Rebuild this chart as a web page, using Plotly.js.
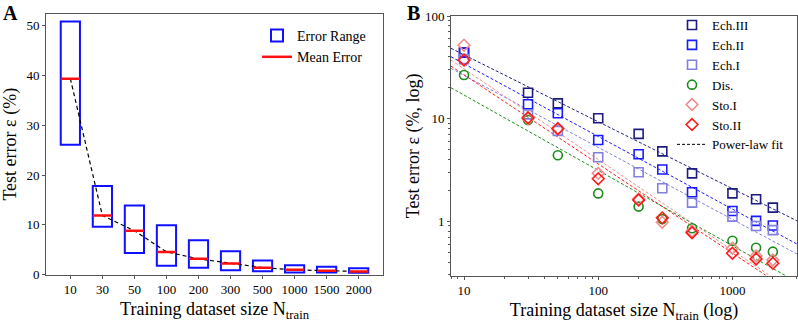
<!DOCTYPE html>
<html><head><meta charset="utf-8">
<script src="https://cdn.plot.ly/plotly-3.0.1.min.js"></script>
<style>html,body{margin:0;padding:0;background:#fff}#chart{width:798px;height:327px}</style>
</head><body><div id="chart"></div>
<script>
// ---- Panel A data ----
const catsA = ['10','30','50','100','200','300','500','1000','1500','2000'];
const lowA  = [26.1, 9.6, 4.3, 1.75, 1.34, 0.87, 0.67, 0.4, 0.4, 0.33];
const highA = [50.9, 17.8, 13.9, 9.9, 6.9, 4.7, 2.8, 1.87, 1.54, 1.27];
const meanA = [39.4, 11.85, 8.8, 4.55, 3.15, 2.2, 1.38, 0.94, 0.74, 0.6];

// ---- Panel B data ----
const xB   = [10, 30, 50, 100, 200, 300, 500, 1000, 1500, 2000];
const ech3 = [44, 17.9, 14.1, 10.1, 7.1, 4.8, 2.93, 1.87, 1.64, 1.36];
const ech2 = [44, 13.8, 11.3, 6.2, 4.5, 3.2, 1.92, 1.26, 1.01, 0.91];
const ech1 = [38, 11.0, 7.6, 4.2, 3.0, 2.1, 1.52, 1.11, 0.9, 0.82];
const dis  = [26.6, 9.7, 4.4, 1.87, 1.39, 1.05, 0.855, 0.647, 0.553, 0.506];
const sto1 = [52, 10.0, 8.0, 2.93, 1.65, 0.98, 0.8, 0.546, 0.46, 0.42];
const sto2 = [37.2, 10.2, 7.97, 2.6, 1.61, 1.08, 0.775, 0.488, 0.43, 0.39];
// power-law fit lines: values read at the two ends of the x range
const fitX    = [8, 3027];
const fitEch3 = [48.4, 1.01];
const fitEch2 = [40.1, 0.60];
const fitEch1 = [30.9, 0.48];
const fitDis  = [20.0, 0.256];
const fitSto1 = [37.2, 0.196];
const fitSto2 = [32.5, 0.187];

const seriesNames = ['Ech.III','Ech.II','Ech.I','Dis.','Sto.I','Sto.II'];

const W = 798, H = 327;
const fx = v => v / W, fy = v => 1 - v / H;
const FONT = 'Liberation Serif, Times New Roman, serif';

const idx = catsA.map((c, i) => i);
const half = 0.3;
const segX = [], segY = [];
idx.forEach((i) => { segX.push(i - half, i + half, null); segY.push(meanA[i], meanA[i], null); });

const traces = [
  {type:'bar', x: idx, base: lowA, y: highA.map((h, i) => h - lowA[i]), width: 0.6,
   marker:{color:'rgba(255,255,255,0)', line:{color:'#1010ff', width:2}},
   name:'Error Range', xaxis:'x', yaxis:'y', legend:'legend', hoverinfo:'skip'},
  {type:'scatter', mode:'lines', x: idx, y: meanA, line:{color:'#000', width:1.2, dash:'4px,3px'},
   showlegend:false, xaxis:'x', yaxis:'y'},
  {type:'scatter', mode:'lines', x: segX, y: segY, line:{color:'#ff1010', width:2.5},
   name:'Mean Error', xaxis:'x', yaxis:'y', legend:'legend', connectgaps:false}
];

const colors  = ['#1c1c80', '#1a1aff', '#8080e0', '#1a8c1a', '#f08c8c', '#ff1a1a'];
const symbols = ['square-open','square-open','square-open','circle-open','diamond-open','diamond-open'];
const vals = [ech3, ech2, ech1, dis, sto1, sto2];
const fits = [fitEch3, fitEch2, fitEch1, fitDis, fitSto1, fitSto2];

fits.forEach((f, k) => traces.push({
  type:'scatter', mode:'lines', x: fitX, y: f, line:{color: colors[k], width:1, dash:'3px,2px'},
  showlegend:false, xaxis:'x2', yaxis:'y2', hoverinfo:'skip'
}));
vals.forEach((v, k) => traces.push({
  type:'scatter', mode:'markers', x: xB, y: v, name: seriesNames[k],
  marker:{symbol: symbols[k], size: 9, color: colors[k], line:{color: colors[k], width:1.6}},
  xaxis:'x2', yaxis:'y2', legend:'legend2'
}));
traces.push({type:'scatter', mode:'lines', x:[null], y:[null], name:'Power-law fit',
  line:{color:'#000', width:1, dash:'3px,2px'}, xaxis:'x2', yaxis:'y2', legend:'legend2'});

const axBase = {showline:true, mirror:true, linecolor:'#555', linewidth:1, showgrid:false, zeroline:false,
  ticks:'outside', ticklen:3, tickwidth:1, tickcolor:'#555', tickfont:{family:FONT, size:13, color:'#000'}};

const layout = {
  width: W, height: H, margin:{l:0, r:0, t:0, b:0},
  paper_bgcolor:'#fff', plot_bgcolor:'#fff', font:{family:FONT, color:'#000'},
  showlegend:true,
  xaxis: Object.assign({}, axBase, {domain:[fx(46), fx(383)], range:[-0.76, 9.76], tickvals: idx, ticktext: catsA,
    title:{text:'Training dataset size N<sub>train</sub>', font:{family:FONT, size:18}, standoff:6}}),
  yaxis: Object.assign({}, axBase, {domain:[fy(274.5), fy(14)], range:[0, 52.4], dtick:10,
    title:{text:'Test error ε (%)', font:{family:FONT, size:18}, standoff:5}}),
  xaxis2: Object.assign({}, axBase, {domain:[fx(451), fx(797)], type:'log', range:[0.903, 3.481], dtick:1,
    exponentformat:'none', anchor:'y2',
    minor:{ticks:'outside', ticklen:2, dtick:'D1', tickcolor:'#555'},
    title:{text:'Training dataset size N<sub>train</sub> (log)', font:{family:FONT, size:18}, standoff:6}}),
  yaxis2: Object.assign({}, axBase, {domain:[fy(275.7), fy(16)], type:'log', range:[-0.53, 2], dtick:1,
    exponentformat:'none', anchor:'x2',
    minor:{ticks:'outside', ticklen:2, dtick:'D1', tickcolor:'#555'},
    title:{text:'Test error ε (%, log)', font:{family:FONT, size:18}, standoff:0}}),
  legend:{x: fx(257), y: fy(20), xanchor:'left', yanchor:'top', bgcolor:'rgba(0,0,0,0)',
    font:{family:FONT, size:14}, itemwidth:30},
  legend2:{x: fx(672), y: fy(10), xanchor:'left', yanchor:'top', bgcolor:'rgba(0,0,0,0)',
    font:{family:FONT, size:13}, itemwidth:30, tracegroupgap:0},
  annotations:[
    {text:'<b>A</b>', x:fx(1), y:fy(0), xref:'paper', yref:'paper', xanchor:'left', yanchor:'top', showarrow:false,
     font:{family:FONT, size:20}},
    {text:'<b>B</b>', x:fx(405), y:fy(0), xref:'paper', yref:'paper', xanchor:'left', yanchor:'top', showarrow:false,
     font:{family:FONT, size:20}}
  ]
};

Plotly.newPlot('chart', traces, layout, {staticPlot:true, displayModeBar:false});
</script></body></html>
